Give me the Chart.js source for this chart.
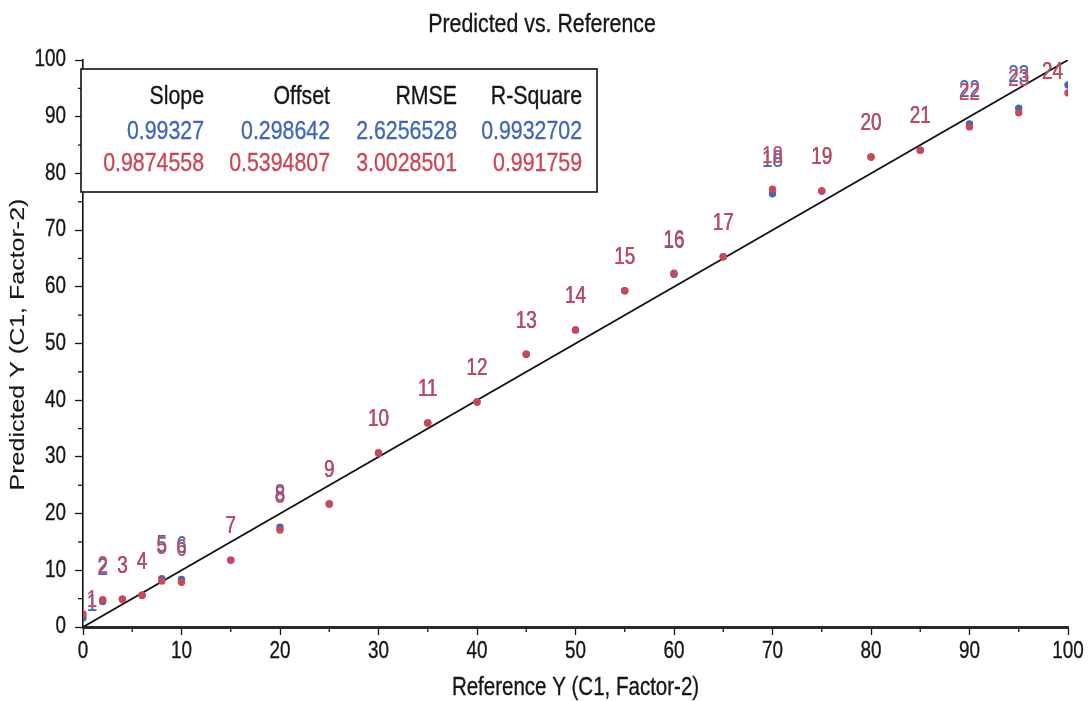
<!DOCTYPE html>
<html>
<head>
<meta charset="utf-8">
<script src="https://cdn.jsdelivr.net/npm/chart.js@4.4.1/dist/chart.umd.min.js"></script>
<style>
html,body{margin:0;padding:0;background:#fff;}
#wrap{width:1089px;height:701px;position:relative;}
canvas{display:block;}
</style>
</head>
<body>
<div id="wrap"><canvas id="c" width="1089" height="701"></canvas></div>
<script>
// ---- data ----
const sampleLabels = ['1','2','3','4','5','6','7','8','9','10','11','12','13','14','15','16','17','18','19','20','21','22','23','24'];
const referenceY   = [0, 2, 4, 6, 8, 10, 15, 20, 25, 30, 35, 40, 45, 50, 55, 60, 65, 70, 75, 80, 85, 90, 95, 100];
const predictedRed = [2.3, 4.8, 4.9, 5.6, 8.1, 7.9, 11.8, 17.1, 21.7, 30.7, 36.0, 39.7, 48.1, 52.4, 59.3, 62.4, 65.3, 77.2, 76.9, 82.9, 84.1, 88.2, 90.7, 94.2];
const predictedBlue= [1.6, 4.5, 4.9, 5.6, 8.5, 8.4, 11.8, 17.6, 21.7, 30.7, 36.0, 39.7, 48.1, 52.4, 59.3, 62.2, 65.3, 76.4, 76.9, 82.9, 84.1, 88.7, 91.5, 95.6];
const targetLineX  = [0, 100];
const targetLineY  = [0, 100];
const xTicks = [0, 10, 20, 30, 40, 50, 60, 70, 80, 90, 100];
const yTicks = [0, 10, 20, 30, 40, 50, 60, 70, 80, 90, 100];
const minorTicks = [5, 15, 25, 35, 45, 55, 65, 75, 85, 95];
const statHeaders = ['Slope', 'Offset', 'RMSE', 'R-Square'];
const statsBlue   = ['0.99327', '0.298642', '2.6256528', '0.9932702'];
const statsRed    = ['0.9874558', '0.5394807', '3.0028501', '0.991759'];
const chartTitle = 'Predicted vs. Reference';
const xTitle = 'Reference Y (C1, Factor-2)';
const yTitle = 'Predicted Y (C1, Factor-2)';

// ---- styles ----
const FAMILY = "'Liberation Sans', Arial, sans-serif";
const SX = 0.82;              // horizontal condensation of all lettering
const RED = '#cd4655';
const BLUE = '#3f67b9';
const INK = '#161616';
const labelDefault = {dx: 0, dy: -33};
const labelOverride = {0: {dx: 9, dy: -13}};

function txt(ctx, s, x, y, size, color, align, baseline, rot, weight) {
  ctx.save();
  ctx.translate(x, y);
  ctx.scale(SX, 1);
  if (rot) ctx.rotate(rot);
  ctx.font = size + 'px ' + FAMILY;
  ctx.fillStyle = color;
  ctx.strokeStyle = color;
  ctx.lineWidth = weight === undefined ? 0.35 : weight;
  ctx.lineJoin = 'round';
  ctx.textAlign = align;
  ctx.textBaseline = baseline;
  ctx.fillText(s, 0, 0);
  if (ctx.lineWidth > 0.01) ctx.strokeText(s, 0, 0);
  ctx.restore();
}
function textWidth(ctx, s, size) {
  ctx.save();
  ctx.font = size + 'px ' + FAMILY;
  const w = ctx.measureText(s).width * SX;
  ctx.restore();
  return w;
}

const decor = {
  id: 'decor',
  afterDatasetsDraw(chart) {
    const ctx = chart.ctx, xs = chart.scales.x, ys = chart.scales.y, a = chart.chartArea;
    ctx.save();
    // minor ticks
    ctx.strokeStyle = INK; ctx.lineWidth = 1.3;
    minorTicks.forEach(v => {
      const px = xs.getPixelForValue(v);
      ctx.beginPath(); ctx.moveTo(px, a.bottom); ctx.lineTo(px, a.bottom + 5); ctx.stroke();
      const py = ys.getPixelForValue(v);
      ctx.beginPath(); ctx.moveTo(a.left, py); ctx.lineTo(a.left - 5, py); ctx.stroke();
    });
    ctx.restore();
    // tick labels
    xTicks.forEach(v => txt(ctx, String(v), xs.getPixelForValue(v), 652, 23, INK, 'center', 'middle'));
    yTicks.forEach(v => txt(ctx, String(v), 66, ys.getPixelForValue(v), 23, INK, 'right', 'middle'));
    // axis titles
    txt(ctx, xTitle, (a.left + a.right) / 2, 688, 25, INK, 'center', 'middle');
    txt(ctx, yTitle, 18, (a.top + a.bottom) / 2 + 1, 25, INK, 'center', 'middle', -Math.PI / 2, 0.15);
    // point labels (blue under red)
    [1, 0].forEach(di => {
      const meta = chart.getDatasetMeta(di);
      const color = chart.data.datasets[di].borderColor;
      meta.data.forEach((pt, i) => {
        const t = sampleLabels[i];
        const w = textWidth(ctx, t, 23);
        const off = labelOverride[i] || labelDefault;
        let x = pt.x + off.dx, y = pt.y + off.dy;
        x = Math.min(Math.max(x, a.left + w / 2 + 2), a.right - w / 2 - 5);
        y = Math.max(y, a.top + 13);
        txt(ctx, t, x, y, 23, color, 'center', 'middle', 0, 0.2);
      });
    });
  },
  afterDraw(chart) {
    const ctx = chart.ctx;
    // title
    txt(ctx, chartTitle, 542, 25, 26, INK, 'center', 'middle');
    // statistics box
    ctx.save();
    ctx.fillStyle = '#fff';
    ctx.fillRect(81, 69, 516, 123);
    ctx.strokeStyle = '#111'; ctx.lineWidth = 1.6;
    ctx.strokeRect(81, 69, 516, 123);
    ctx.restore();
    const cols = [204, 330, 457, 582];
    const rows = [[statHeaders, INK, 104], [statsBlue, BLUE, 139], [statsRed, RED, 171]];
    rows.forEach(([vals, col, y]) => {
      vals.forEach((v, k) => txt(ctx, v, cols[k], y, 26, col, 'right', 'alphabetic'));
    });
  }
};

function build() {
  const ctx = document.getElementById('c').getContext('2d');
  new Chart(ctx, {
    type: 'scatter',
    data: {
      datasets: [
        {
          label: 'Red',
          data: referenceY.map((x, i) => ({x, y: predictedRed[i]})),
          backgroundColor: RED, borderColor: RED,
          pointRadius: 3.7, pointBorderWidth: 0, pointHoverRadius: 3.7
        },
        {
          label: 'Blue',
          data: referenceY.map((x, i) => ({x, y: predictedBlue[i]})),
          backgroundColor: BLUE, borderColor: BLUE,
          pointRadius: 3.7, pointBorderWidth: 0, pointHoverRadius: 3.7
        },
        {
          label: 'Target',
          data: targetLineX.map((x, i) => ({x, y: targetLineY[i]})),
          showLine: true, borderColor: '#111', borderWidth: 1.8,
          pointRadius: 0, fill: false
        }
      ]
    },
    options: {
      responsive: false,
      animation: false,
      events: [],
      layout: {padding: {top: 60, right: 21, bottom: 0, left: 0}},
      plugins: {legend: {display: false}, title: {display: false}, tooltip: {enabled: false}},
      scales: {
        x: {
          type: 'linear', min: 0, max: 100,
          afterBuildTicks: s => { s.ticks = xTicks.map(v => ({value: v})); },
          afterFit: s => { s.height = 74; },
          grid: {display: true, drawOnChartArea: false, drawTicks: true, tickLength: 8, tickWidth: 1.3, tickColor: INK},
          border: {display: true, color: '#2a2a2a', width: 3},
          ticks: {display: false, autoSkip: false},
          title: {display: false}
        },
        y: {
          type: 'linear', min: 0, max: 100,
          afterBuildTicks: s => { s.ticks = yTicks.map(v => ({value: v})); },
          afterFit: s => { s.width = 83; },
          grid: {display: true, drawOnChartArea: false, drawTicks: true, tickLength: 8, tickWidth: 1.3, tickColor: INK},
          border: {display: true, color: '#111', width: 1.6},
          ticks: {display: false, autoSkip: false},
          title: {display: false}
        }
      }
    },
    plugins: [decor]
  });
}

Promise.race([document.fonts.load("23px 'Liberation Sans'"), new Promise(r => setTimeout(r, 800))]).then(build, build);
</script>
</body>
</html>
